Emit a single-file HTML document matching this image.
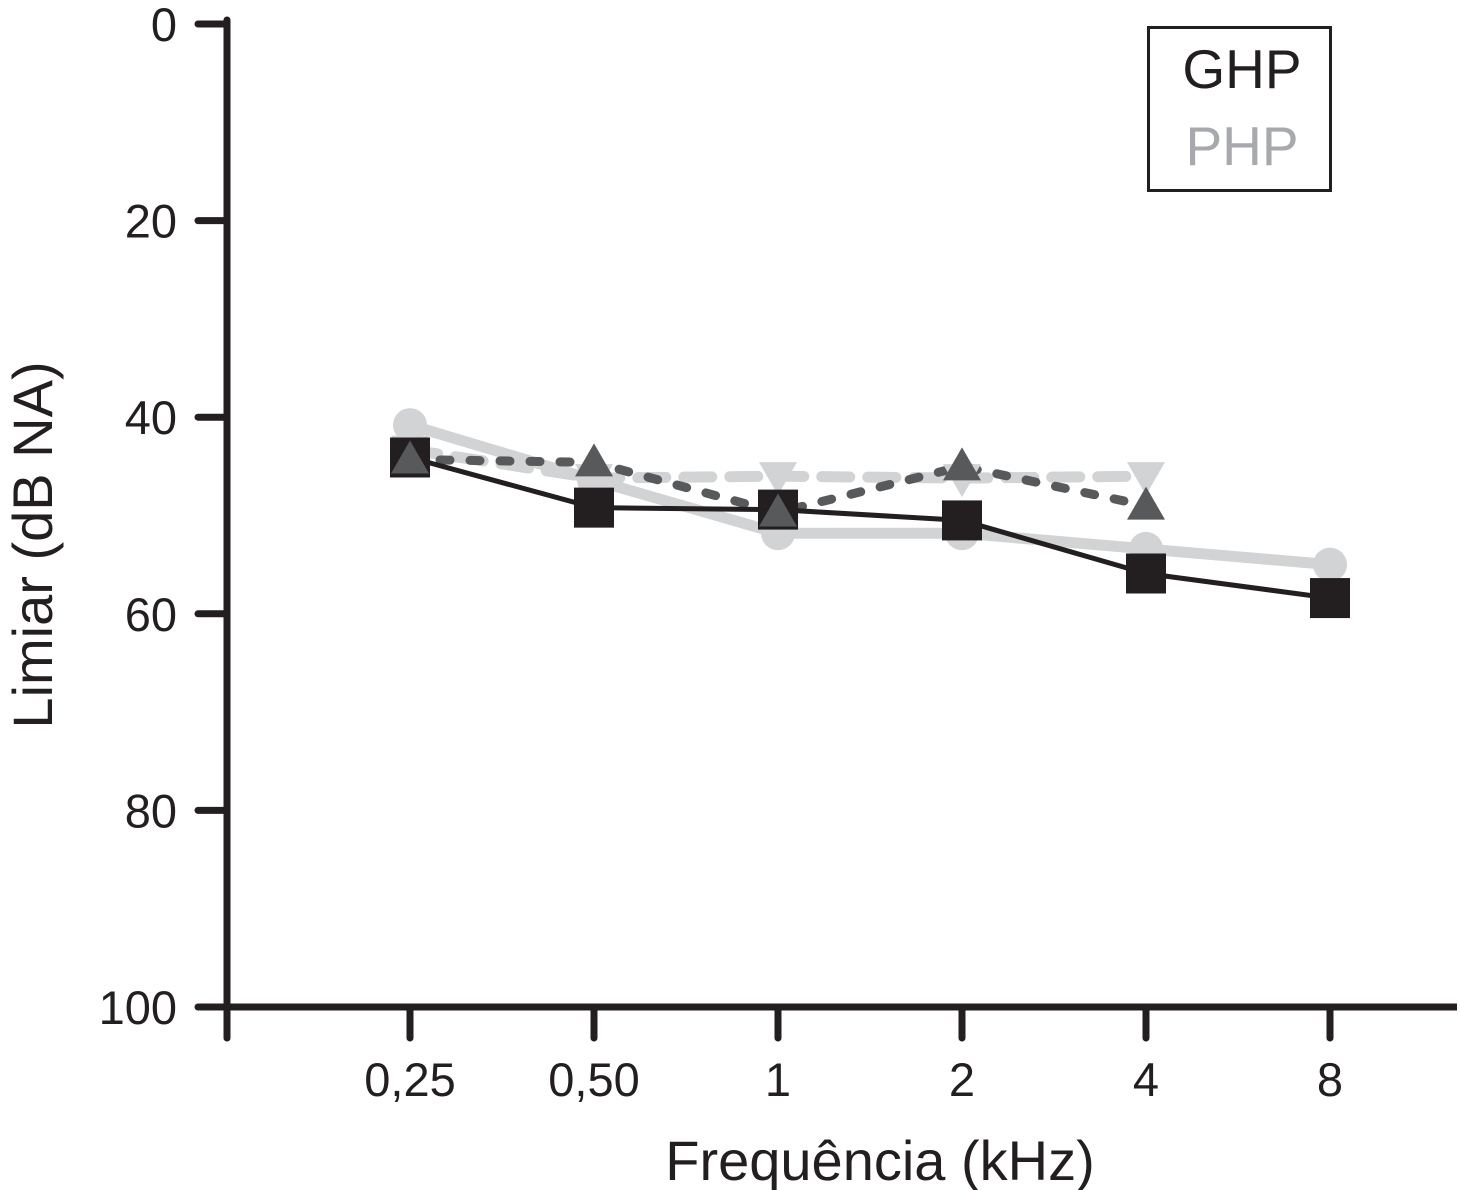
<!DOCTYPE html>
<html><head><meta charset="utf-8"><style>
html,body{margin:0;padding:0;background:#fff;}
svg{display:block;font-family:"Liberation Sans",sans-serif;}
</style></head><body>
<svg id="chart" width="1460" height="1190" viewBox="0 0 1460 1190" xmlns="http://www.w3.org/2000/svg">
<g id="axes"></g>
<g id="series"></g>
<g>
<rect x="1148.5" y="27.5" width="182" height="163" fill="#fff" stroke="#231f20" stroke-width="3"/>
<text x="1242" y="88" font-size="55" text-anchor="middle" fill="#231f20">GHP</text>
<text x="1242" y="165" font-size="55" text-anchor="middle" fill="#a7a9ac">PHP</text>
</g>
<text x="880" y="1180" font-size="56" text-anchor="middle" fill="#231f20">Frequência (kHz)</text>
<text transform="translate(52,545) rotate(-90)" font-size="56" text-anchor="middle" fill="#231f20">Limiar (dB NA)</text>
</svg>
<script>
const categories = ["0,25","0,50","1","2","4","8"];
const yTicks = [0,20,40,60,80,100];
const ghpSquare = [44.1,49.2,49.4,50.5,55.9,58.4];
const phpCircle = [40.8,46.4,51.8,51.8,53.4,55.0];
const ghpTriangle = [44.3,44.6,49.7,45.0,49.0];
const phpTriangleDown = [43.3,46.2,46.0,46.2,46.0];

const NS="http://www.w3.org/2000/svg";
const xPos = i => 410 + i*184;
const yPos = v => 24 + v*(1007-24)/100;
function mk(tag, attrs, parent){const e=document.createElementNS(NS,tag);for(const k in attrs)e.setAttribute(k,attrs[k]);parent.appendChild(e);return e;}
const axes=document.getElementById('axes');
const ser=document.getElementById('series');
const C="#231f20";
let a=mk('line',{x1:227,y1:20,x2:227,y2:1038,stroke:C,'stroke-width':7,'stroke-linecap':'round'},axes);


a=mk('line',{x1:227,y1:1007,x2:1457,y2:1007,stroke:C,'stroke-width':7},axes);


yTicks.forEach(t=>{
  const y=yPos(t);
  const l=mk('line',{x1:198,y1:y,x2:227,y2:y,stroke:C,'stroke-width':7,'stroke-linecap':'round'},axes);
  
  
  const tx=mk('text',{x:177,y:y+17,'font-size':47,'text-anchor':'end',fill:C},axes);
  tx.textContent=t;
  
  
});
categories.forEach((c,i)=>{
  const x=xPos(i);
  const l=mk('line',{x1:x,y1:1007,x2:x,y2:1038,stroke:C,'stroke-width':7,'stroke-linecap':'round'},axes);
  
  
  const tx=mk('text',{x:x,y:1096,'font-size':47,'text-anchor':'middle',fill:C},axes);
  tx.textContent=c;
  
  
});
function pts(arr){return arr.map((v,i)=>xPos(i)+','+yPos(v)).join(' ');}
function line(arr,attrs,name){const p=mk('polyline',Object.assign({points:pts(arr),fill:'none','stroke-linecap':'round','stroke-linejoin':'round'},attrs),ser);}
line(phpCircle,{stroke:'#d1d3d4','stroke-width':11},'php-circle-line');
line(phpTriangleDown,{stroke:'#d1d3d4','stroke-width':11,'stroke-dasharray':'28 18'},'php-triangle-line');
line(ghpTriangle,{stroke:'#58595b','stroke-width':9,'stroke-dasharray':'10 20'},'ghp-triangle-line');
line(ghpSquare,{stroke:C,'stroke-width':5},'ghp-square-line');
phpCircle.forEach((v,i)=>{const e=mk('circle',{cx:xPos(i),cy:yPos(v),r:17,fill:'#d1d3d4'},ser);

});
phpTriangleDown.forEach((v,i)=>{const x=xPos(i),y=yPos(v);const e=mk('polygon',{points:`${x-19},${y-14} ${x+19},${y-14} ${x},${y+19}`,fill:'#d1d3d4'},ser);

});
ghpSquare.forEach((v,i)=>{const e=mk('rect',{x:xPos(i)-20,y:yPos(v)-20,width:40,height:40,fill:C},ser);

});
ghpTriangle.forEach((v,i)=>{const x=xPos(i),y=yPos(v);const e=mk('polygon',{points:`${x-19},${y+14} ${x+19},${y+14} ${x},${y-19}`,fill:'#58595b'},ser);

});
</script>
</body></html>
